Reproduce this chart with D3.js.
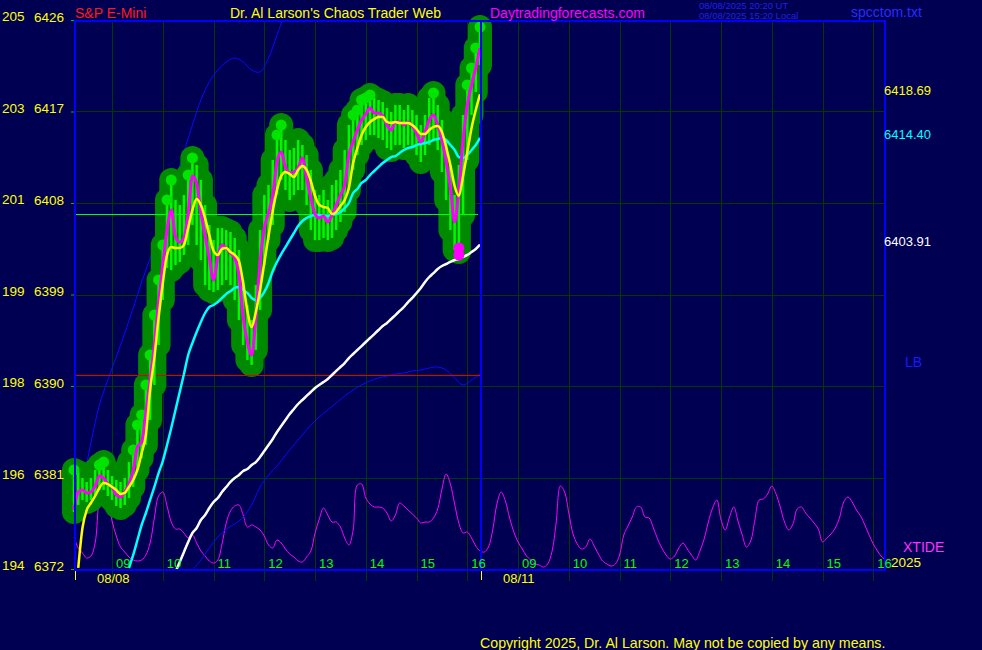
<!DOCTYPE html>
<html><head><meta charset="utf-8">
<script src="https://cdn.jsdelivr.net/npm/d3@7/dist/d3.min.js"></script>
<style>body{margin:0;background:#000052;}svg{display:block;}</style>
</head><body>
<svg id="c" width="982" height="650"></svg>
<script>
// ---------- DATA ----------
const barMinutes = 5;            // each price bar = 5 minutes, session starts 08:15
const sessionHours = 8;          // 08:15 - 16:15
const closes = [
6377.80,6379.57,6379.77,6379.48,6379.57,6380.16,6381.15,6380.95,6380.36,6380.07,
6379.28,6379.08,6379.57,6380.36,6381.74,6384.00,6384.49,6387.34,6390.59,6394.03,
6398.26,6401.90,6405.34,6407.31,6404.66,6404.16,6404.56,6407.02,6410.66,6409.97,
6407.11,6404.75,6402.59,6400.43,6402.69,6403.87,6403.57,6403.08,6402.59,6400.92,
6396.79,6394.33,6393.05,6396.69,6402.20,6405.54,6407.02,6408.79,6412.03,6413.02,
6411.54,6410.95,6411.05,6411.44,6412.43,6410.46,6408.49,6406.92,6406.52,6406.72,
6406.13,6406.82,6407.80,6408.79,6409.77,6412.72,6414.00,6415.18,6416.16,6416.75,
6417.34,6416.85,6416.85,6416.56,6415.67,6415.18,6415.97,6415.97,6415.67,6415.97,
6415.57,6414.89,6414.00,6414.98,6416.16,6416.66,6415.67,6414.20,6412.03,6409.48,
6406.13,6409.28,6414.20,6417.64,6419.61,6421.28,6423.25];
const highs = [
6381.74,6381.54,6380.95,6380.56,6380.95,6381.74,6382.23,6382.52,6381.74,6381.15,
6380.75,6380.56,6380.95,6382.52,6383.70,6386.16,6387.15,6390.10,6393.05,6396.98,
6400.43,6403.87,6408.30,6410.26,6408.30,6407.80,6408.79,6410.75,6412.43,6411.74,
6410.26,6407.80,6405.84,6404.36,6405.54,6405.54,6405.34,6405.15,6404.56,6403.38,
6400.43,6397.97,6396.49,6399.93,6405.34,6408.79,6409.77,6412.23,6414.69,6415.67,
6414.20,6413.21,6413.41,6414.20,6413.70,6412.72,6411.25,6409.28,6408.79,6409.28,
6408.30,6409.77,6410.26,6411.25,6413.21,6415.67,6416.66,6417.15,6418.13,6418.33,
6418.62,6418.33,6418.13,6417.93,6417.34,6416.95,6417.64,6417.64,6417.15,6417.64,
6417.15,6416.66,6415.67,6416.66,6418.33,6418.82,6417.64,6416.16,6414.20,6411.74,
6408.79,6411.74,6416.66,6419.61,6421.28,6423.25,6425.31];
const lows = [
6377.61,6378.30,6378.79,6378.59,6378.79,6379.28,6379.77,6379.77,6379.18,6378.79,
6378.20,6378.00,6378.30,6378.98,6380.07,6381.74,6382.92,6384.20,6386.66,6390.10,
6394.03,6398.46,6401.61,6401.41,6401.90,6402.20,6402.89,6403.87,6405.84,6403.87,
6402.39,6399.93,6399.44,6399.25,6399.44,6399.93,6400.43,6399.93,6398.46,6396.49,
6394.03,6392.56,6392.07,6393.54,6397.48,6401.90,6404.36,6405.84,6408.79,6410.26,
6409.28,6408.30,6408.79,6409.28,6409.28,6407.80,6405.34,6404.36,6404.36,6404.56,
6404.36,6404.56,6405.34,6406.13,6407.11,6409.28,6411.25,6412.72,6413.70,6414.20,
6414.69,6414.69,6414.39,6414.20,6413.41,6413.21,6413.70,6413.70,6413.41,6413.70,
6413.41,6412.72,6412.03,6412.72,6413.70,6414.20,6413.21,6411.05,6408.30,6405.34,
6403.38,6403.18,6406.82,6412.23,6416.66,6418.92,6421.57];
const yellowStart = 1;
const yellowAvg = [
6372.10,6376.03,6377.80,6378.49,6379.18,6379.97,6380.46,6380.36,6380.07,6379.77,
6379.38,6379.48,6380.07,6380.75,6381.74,6383.41,6385.18,6389.61,6392.75,6396.69,
6400.13,6402.89,6403.67,6403.57,6403.57,6403.87,6405.54,6407.31,6408.39,6407.80,
6406.52,6404.85,6403.28,6402.89,6403.48,6403.57,6403.18,6402.89,6402.30,6400.13,
6397.38,6395.80,6397.28,6399.44,6402.10,6404.75,6407.21,6409.28,6410.66,6411.05,
6410.85,6410.56,6411.25,6411.64,6411.25,6410.16,6408.69,6407.80,6407.61,6407.51,
6406.92,6407.11,6407.70,6408.30,6409.48,6411.93,6413.41,6414.69,6415.48,6415.97,
6416.26,6416.46,6416.46,6415.97,6415.87,6415.97,6415.87,6415.87,6415.87,6415.67,
6415.28,6414.79,6414.79,6415.18,6415.48,6415.57,6414.98,6413.51,6411.74,6409.67,
6408.69,6410.66,6413.02,6415.38,6417.15,6418.69];
const cyanStart = 13;
const cyanAvg = [
6372.10,6373.38,6374.85,6376.33,6377.51,6378.79,6380.07,6381.44,6382.62,6384.20,
6385.87,6387.64,6389.41,6391.18,6393.05,6394.23,6395.31,6396.30,6397.18,6397.77,
6397.97,6398.26,6398.66,6399.05,6399.34,6399.64,6399.74,6399.44,6399.15,6398.66,
6398.46,6398.66,6399.25,6400.13,6401.31,6402.20,6402.98,6403.67,6404.36,6405.05,
6405.74,6406.23,6406.52,6406.72,6406.82,6406.82,6406.72,6406.72,6406.82,6406.92,
6407.11,6407.51,6408.00,6408.98,6409.38,6409.97,6410.26,6410.75,6411.15,6411.54,
6411.93,6412.23,6412.52,6412.62,6412.92,6413.21,6413.41,6413.51,6413.70,6413.80,
6413.90,6414.00,6414.20,6414.30,6414.39,6414.20,6413.70,6413.21,6412.52,6412.43,
6412.72,6413.21,6413.70,6414.40];
const whiteStart = 24;
const whiteAvg = [
6371.70,6372.69,6373.67,6374.66,6375.54,6376.03,6376.82,6377.31,6378.00,6378.59,
6378.98,6379.57,6380.07,6380.56,6380.95,6381.25,6381.64,6381.84,6382.23,6382.52,
6383.02,6383.61,6384.20,6384.79,6385.48,6386.07,6386.66,6387.25,6387.74,6388.23,
6388.62,6389.02,6389.41,6389.80,6390.10,6390.39,6390.69,6391.08,6391.48,6391.87,
6392.26,6392.75,6393.15,6393.54,6393.93,6394.33,6394.72,6395.11,6395.51,6395.90,
6396.20,6396.59,6396.98,6397.38,6397.77,6398.26,6398.66,6399.15,6399.64,6400.23,
6400.72,6401.11,6401.51,6401.80,6402.00,6402.20,6402.39,6402.49,6402.69,6402.89,
6403.18,6403.48,6403.91];
const bandStep = 2;              // bands sampled every 2 bars (10 minutes)
const upperBandStart = 0;
const upperBand = [6376.03,6380.26,6384.39,6388.13,6390.59,6392.85,6395.21,6397.67,6400.23,6402.59,
6405.15,6407.31,6410.26,6413.02,6415.67,6418.13,6419.90,6421.08,6421.87,6422.26,
6421.87,6421.08,6420.89,6422.26,6424.52,6426.79];
const lowerBandStart = 28;
const lowerBand = [6371.90,6372.89,6374.07,6375.15,6375.93,6376.43,6377.11,6378.30,6380.07,6381.25,
6382.13,6383.21,6384.20,6385.18,6386.16,6386.95,6387.64,6388.33,6389.02,6389.61,
6390.10,6390.49,6390.79,6390.98,6391.18,6391.28,6391.48,6391.57,6391.77,6391.87,
6391.57,6390.79,6390.10,6390.59,6391.18];
// XTIDE cycle, 5-minute steps over both sessions (relative units 0-100)
const xtide = [31,20,15,10,12,25,71,87,68,47,
32,21,16,11,8,7,8,13,25,50,
72,76,62,46,39,39,35,30,33,25,
17,12,7,5,8,24,45,57,62,63,
53,41,43,41,38,32,23,20,28,25,
19,14,11,7,6,11,17,35,49,60,
53,46,46,41,30,23,38,83,84,70,
64,61,61,60,55,47,53,65,62,58,
54,50,45,46,46,50,59,79,94,84,
64,45,35,36,30,22,17,16,21,38,
64,76,67,50,36,26,19,12,8,4,
3,1,4,16,45,82,76,55,34,24,
19,21,29,22,14,7,4,2,4,13,
33,42,51,61,61,51,50,40,29,20,
13,9,12,20,25,19,13,8,17,29,
46,60,68,48,38,51,61,47,33,21,
27,48,68,69,74,82,74,61,46,38,
44,59,61,55,50,45,39,26,30,34,
40,50,66,71,66,58,52,43,33,24,
17,11,8];
const priceTicks = [6426,6417,6408,6399,6390,6381,6372];
const altTicks = [205,203,201,199,198,196,194];
const hourLabels = ["09","10","11","12","13","14","15","16"];
const sessionDates = ["08/08","08/11"];
const greenLevel = 6406.9;
const redLevel = 6391.08;
const lowMarkBar = 91;
const lastLabels = [
  {text:"6418.69", value:6418.69, color:"#ffff00"},
  {text:"6414.40", value:6414.40, color:"#00ffff"},
  {text:"6403.91", value:6403.91, color:"#ffffff"}];

// ---------- CHART ----------
const W = 982, H = 650;
const L = 74, R = 885, T = 20, B = 569;
const svg = d3.select("#c");
const font = "'Liberation Sans', Arial, sans-serif";
svg.append("rect").attr("width", W).attr("height", H).attr("fill", "#000052");

const x = d3.scaleLinear().domain([0, 2 * sessionHours]).range([74, 886]);
const y = d3.scaleLinear().domain([6372, 6426]).range([B, T]);
const yt = d3.scaleLinear().domain([0, 100]).range([568, 468]);
const hr = i => i * barMinutes / 60;

svg.append("defs").append("clipPath").attr("id", "plot")
  .append("rect").attr("x", L).attr("y", T).attr("width", R - L).attr("height", B - T);

// grid
const grid = svg.append("g").attr("stroke", "#003a00").attr("stroke-width", 1);
sessionDates.forEach((d, s) => {
  hourLabels.forEach((h, j) => {
    const gx = Math.round(x(s * sessionHours + 0.75 + j)) + 0.5;
    grid.append("line").attr("x1", gx).attr("x2", gx).attr("y1", T).attr("y2", 581);
  });
});
priceTicks.slice(1, -1).forEach(p => {
  const gy = Math.round(y(p)) + 0.5;
  grid.append("line").attr("x1", L).attr("x2", R).attr("y1", gy).attr("y2", gy);
});

// xtide
svg.append("path").datum(xtide)
  .attr("d", d3.line().x((v, i) => x(hr(i))).y(v => yt(v)).curve(d3.curveCatmullRom))
  .attr("fill", "none").attr("stroke", "#ff00ff").attr("stroke-width", 1);

// bands (behind the price blobs)
const bandLine = (start) => d3.line().x((v, i) => x(hr(start + i * bandStep))).y(v => y(v)).curve(d3.curveCatmullRom);
const bandG = svg.append("g").attr("clip-path", "url(#plot)");
bandG.append("path").datum(upperBand).attr("d", bandLine(upperBandStart))
  .attr("fill", "none").attr("stroke", "#0a0aff").attr("stroke-width", 1);
bandG.append("path").datum(lowerBand).attr("d", bandLine(lowerBandStart))
  .attr("fill", "none").attr("stroke", "#0a0aff").attr("stroke-width", 1);

// price blobs
const bars = d3.range(closes.length);
const rad = 12;
svg.append("g").selectAll("rect").data(bars).join("rect")
  .attr("x", i => x(hr(i)) - rad).attr("width", rad * 2)
  .attr("y", i => y(highs[i]) - rad).attr("height", i => y(lows[i]) - y(highs[i]) + rad * 2)
  .attr("rx", rad).attr("ry", rad).attr("fill", "#008a00");

// horizontal levels
svg.append("line").attr("x1", 75).attr("x2", 478).attr("y1", Math.round(y(greenLevel)) + 0.5).attr("y2", Math.round(y(greenLevel)) + 0.5)
  .attr("stroke", "#00ff00").attr("stroke-width", 1);
svg.append("line").attr("x1", 75).attr("x2", 480).attr("y1", Math.round(y(redLevel)) + 0.5).attr("y2", Math.round(y(redLevel)) + 0.5)
  .attr("stroke", "#e00000").attr("stroke-width", 1);

// bars
svg.append("g").selectAll("line").data(bars).join("line")
  .attr("x1", i => x(hr(i))).attr("x2", i => x(hr(i)))
  .attr("y1", i => y(highs[i])).attr("y2", i => y(lows[i]))
  .attr("stroke", "#00f800").attr("stroke-width", 2.5);

// new-high dots
let runHigh = -Infinity;
const dotBars = bars.filter(i => { if (highs[i] > runHigh) { runHigh = highs[i]; return true; } return false; });
svg.append("g").selectAll("circle").data(dotBars).join("circle")
  .attr("cx", i => x(hr(i))).attr("cy", i => y(highs[i])).attr("r", 5.5).attr("fill", "#00e400");

// moving averages (above the blobs)
const avgLine = (start) => d3.line().x((v, i) => x(hr(start + i))).y(v => y(v)).curve(d3.curveMonotoneX);
const lineG = svg.append("g").attr("clip-path", "url(#plot)");
lineG.append("path").datum(whiteAvg).attr("d", avgLine(whiteStart))
  .attr("fill", "none").attr("stroke", "#ffffff").attr("stroke-width", 2.5);
lineG.append("path").datum(cyanAvg).attr("d", avgLine(cyanStart))
  .attr("fill", "none").attr("stroke", "#00ffff").attr("stroke-width", 2.5);
svg.append("path").datum(closes).attr("d", avgLine(0))
  .attr("fill", "none").attr("stroke", "#ff00ff").attr("stroke-width", 3);
const lineG2 = svg.append("g").attr("clip-path", "url(#plot)");
lineG2.append("path").datum(yellowAvg).attr("d", avgLine(yellowStart))
  .attr("fill", "none").attr("stroke", "#ffff00").attr("stroke-width", 2.5);

// low marker
[-4, 3].forEach(dy => {
  svg.append("circle").attr("cx", x(hr(lowMarkBar))).attr("cy", y(lows[lowMarkBar]) + dy)
    .attr("r", 5.5).attr("fill", "#ff00ff");
});

// frame
const frame = svg.append("g").attr("stroke", "#0000ff").attr("stroke-width", 2);
frame.append("line").attr("x1", L).attr("x2", R + 1).attr("y1", T + 1).attr("y2", T + 1);
frame.append("line").attr("x1", L + 1).attr("x2", L + 1).attr("y1", T).attr("y2", B + 2);
frame.append("line").attr("x1", R).attr("x2", R).attr("y1", T).attr("y2", B + 2);
frame.append("line").attr("x1", L).attr("x2", R + 1).attr("y1", B + 1).attr("y2", B + 1);
frame.append("line").attr("x1", x(sessionHours) + 1).attr("x2", x(sessionHours) + 1).attr("y1", T).attr("y2", B + 1);

// left axis (price)
const yAxis = d3.axisLeft(y).tickValues(priceTicks).tickSize(3).tickPadding(7).tickFormat(d3.format("d"));
const ya = svg.append("g").attr("transform", `translate(${L},0)`).call(yAxis);
ya.select(".domain").remove();
ya.selectAll(".tick line").attr("stroke", "#00c000");
ya.selectAll(".tick text").attr("fill", "#ffff00").attr("dy", 1)
  .style("font-family", font).style("font-size", "13.5px");
svg.append("g").selectAll("text").data(altTicks).join("text")
  .attr("x", 2).attr("y", (d, i) => y(priceTicks[i]) + 1)
  .text(d => d).attr("fill", "#ffff00").style("font-family", font).style("font-size", "13.5px");

// hour labels
const lbl = svg.append("g").style("font-family", font).style("font-size", "13px");
sessionDates.forEach((d, s) => {
  hourLabels.forEach((h, j) => {
    lbl.append("text").attr("x", x(s * sessionHours + 0.75 + j) + 4).attr("y", 568)
      .text(h).attr("fill", "#00ff00");
  });
  const sx = x(s * sessionHours);
  lbl.append("text").attr("x", sx + 23).attr("y", 583).text(d).attr("fill", "#ffff00");
  svg.append("line").attr("x1", sx + 1.5).attr("x2", sx + 1.5).attr("y1", 571).attr("y2", 580)
    .attr("stroke", "#ffff00").attr("stroke-width", 1);
});

// right side labels
svg.append("g").selectAll("text").data(lastLabels).join("text")
  .attr("x", 884).attr("y", d => y(d.value) + 1).text(d => d.text).attr("fill", d => d.color)
  .style("font-family", font).style("font-size", "13px");

const txt = (t, x0, y0, c, size) => svg.append("text").attr("x", x0).attr("y", y0).text(t)
  .attr("fill", c).style("font-family", font).style("font-size", size + "px");
txt("LB", 905, 367, "#1a1aff", 14);
txt("XTIDE", 903, 552, "#ff33ff", 14);
txt("2025", 891, 567, "#ffff00", 13.5);

// titles
txt("S&P E-Mini", 75, 18, "#ff1a1a", 14);
txt("Dr. Al Larson's Chaos Trader Web", 230, 18, "#ffff00", 14);
txt("Daytradingforecasts.com", 490, 18, "#ff00ff", 14);
txt("08/08/2025 20:20  UT", 699, 9, "#2020e8", 9.5);
txt("08/08/2025 15:20  Local", 699, 19, "#2020e8", 9.5);
txt("spcctom.txt", 851, 17, "#2a2aff", 14);
txt("Copyright 2025, Dr. Al Larson. May not be copied by any means.", 480, 648, "#ffff00", 14.2);
</script>
</body></html>
